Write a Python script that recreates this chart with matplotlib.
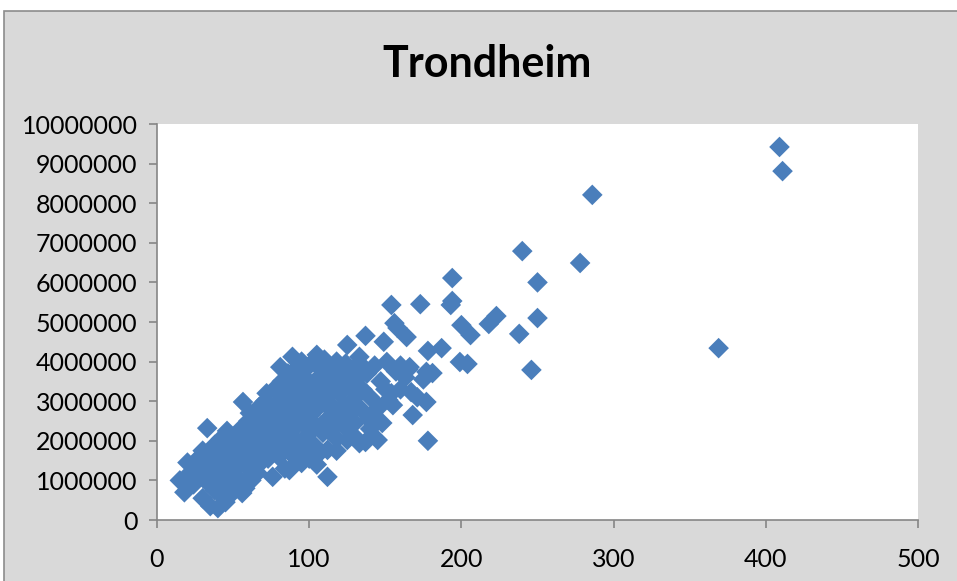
import matplotlib
matplotlib.use("Agg")
import matplotlib.pyplot as plt
from matplotlib.patches import Rectangle
from matplotlib.ticker import FuncFormatter, MultipleLocator

# x values and y values (in millions) for each observation
x_vals = [
    15, 18, 20, 22, 24, 25, 27, 28, 30, 30, 32, 33, 33, 35, 35, 36, 38, 38, 40, 40,
    41, 42, 43, 44, 45, 46, 46, 47, 48, 49, 50, 50, 51, 52, 53, 54, 55, 56, 56.5, 57,
    58, 59, 60, 60, 58, 62, 64,
    61, 62, 63, 64, 65, 66, 66, 67, 68, 68, 69, 70, 71, 72, 72, 73, 74, 75, 76, 76,
    77, 78, 79, 80, 80, 81, 81, 82, 83, 84, 84, 85, 86, 86, 87, 87, 88, 89, 89, 90,
    90, 91, 92, 92, 93, 94, 95, 95, 96, 97, 97, 98, 99, 99, 100, 100,
    101, 102, 103, 103, 104, 105, 105, 106, 107, 107, 108, 109, 110, 110, 111, 112, 112, 112,
    113, 114, 115, 116, 117, 118, 118, 119, 120, 121, 122, 123, 124, 125, 125, 125, 126, 127,
    128, 129, 130, 130, 118, 105,
    131, 133, 133, 133, 134, 135, 137, 137, 138, 139, 140, 142, 143, 145, 146, 147, 149, 150,
    151, 152, 154, 154, 156, 157, 158, 160, 140, 148, 155, 160, 163,
    164, 165, 166, 167, 168, 171, 173, 175, 177, 177, 178, 178, 181, 187, 194, 194, 193, 199,
    200, 204, 206,
    218, 223, 238, 240, 246, 250, 250, 278, 286, 369, 409, 411,
]
y_mill = [
    1.0, 0.7, 1.45, 1.2, 0.9, 1.3, 1.55, 1.1, 0.55, 1.75, 1.4, 2.32, 0.95, 0.35, 1.6, 1.2, 1.9, 0.75, 0.3, 1.45,
    1.05, 2.05, 0.6, 1.7, 0.45, 2.25, 1.3, 0.9, 1.95, 1.55, 0.7, 2.1, 1.15, 1.8, 0.85, 1.4, 2.3, 0.68, 2.98, 1.65,
    2.0, 1.0, 2.5, 1.3, 0.8, 1.0, 1.15,
    2.7, 1.85, 2.2, 1.5, 2.55, 1.19, 2.0, 2.85, 1.44, 2.35, 1.75, 2.6, 3.0, 3.2, 2.1, 1.55, 2.4, 2.85, 1.09, 1.9,
    3.3, 2.25, 2.65, 1.6, 3.0, 3.86, 2.0, 3.5, 2.45, 1.3, 2.8, 3.25, 1.85, 3.7, 2.2, 1.26, 2.6, 4.12, 3.0, 1.6,
    3.45, 2.35, 3.85, 1.95, 2.75, 3.2, 4.0, 1.44, 2.45, 3.6, 1.8, 2.95, 3.35, 2.15, 3.9, 1.55,
    2.65, 3.1, 4.0, 1.9, 2.4, 3.55, 4.17, 2.85, 1.7, 3.25, 3.8, 2.2, 2.95, 4.05, 3.5, 1.09, 1.77, 2.55,
    3.15, 3.75, 2.3, 2.85, 3.45, 4.0, 2.05, 2.6, 3.2, 3.65, 2.4, 2.9, 3.95, 4.42, 2.02, 2.35, 3.4, 2.7,
    3.75, 3.05, 2.45, 2.1, 1.75, 1.4,
    3.55, 4.12, 1.94, 3.96, 2.8, 3.3, 1.97, 4.65, 3.7, 2.55, 3.1, 2.7, 3.9, 2.02, 2.85, 3.5, 4.5, 3.3,
    3.99, 3.03, 3.2, 5.43, 4.97, 3.75, 4.85, 3.9, 2.3, 2.45, 2.9, 3.3, 3.6,
    4.62, 3.8, 3.86, 3.23, 2.65, 3.1, 5.45, 3.55, 2.98, 3.74, 2.0, 4.27, 3.71, 4.34, 6.11, 5.53, 5.43, 3.99,
    4.92, 3.94, 4.67,
    4.95, 5.15, 4.7, 6.79, 3.79, 6.0, 5.1, 6.49, 8.21, 4.34, 9.42, 8.81,
]
y_vals = [v * 1e6 for v in y_mill]

x_ticks = [0, 100, 200, 300, 400, 500]
title = "Trondheim"

FONT = "Lato"
AXIS_GREY = "#868686"
MARKER_BLUE = "#4A7EBB"

fig = plt.figure(figsize=(9.57, 5.81), dpi=100)
fig.patch.set_facecolor("white")

# grey chart area with its thin border
fig.patches.append(Rectangle((4 / 957, -0.01), 1.1, (581 - 11) / 581 + 0.01,
                             transform=fig.transFigure, facecolor="#D9D9D9",
                             edgecolor="#8C8C8C", linewidth=1.2, zorder=-10))

ax = fig.add_axes([157 / 957, 1 - 520 / 581, (918 - 157) / 957, (520 - 124) / 581])
ax.set_facecolor("white")

ax.scatter(x_vals, y_vals, marker="D", s=110, color=MARKER_BLUE,
           edgecolors="none", zorder=3, clip_on=False)

ax.set_xlim(0, 500)
ax.set_ylim(0, 10_000_000)
ax.set_xticks(x_ticks)
ax.yaxis.set_major_locator(MultipleLocator(1_000_000))
ax.yaxis.set_major_formatter(FuncFormatter(lambda v, p: f"{int(round(v))}"))

for side in ("top", "right"):
    ax.spines[side].set_visible(False)
for side in ("left", "bottom"):
    ax.spines[side].set_color(AXIS_GREY)
    ax.spines[side].set_linewidth(1.2)

ax.tick_params(axis="both", direction="out", length=6, width=1.2, color=AXIS_GREY,
               labelsize=18, labelcolor="black")
ax.tick_params(axis="y", pad=8)
ax.tick_params(axis="x", pad=14)
for lbl in ax.get_xticklabels() + ax.get_yticklabels():
    lbl.set_fontfamily(FONT)

fig.text(487 / 957, 1 - 64 / 581, title, ha="center", va="center",
         fontsize=31, fontweight="bold", fontfamily=FONT, color="black")

fig.savefig("out.png", dpi=100, facecolor=fig.get_facecolor())
